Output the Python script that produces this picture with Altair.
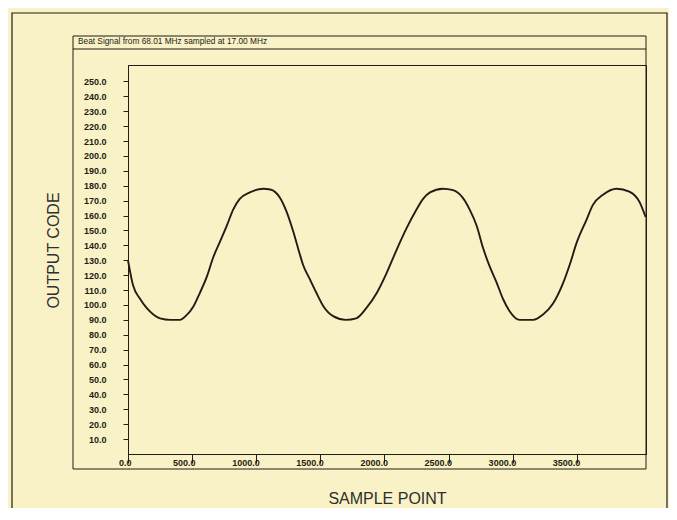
import altair as alt
import pandas as pd

# Digitised waveform (sample index, output code)
sample_point = [0, 40, 95, 145, 200, 250, 330, 405, 455, 510, 560, 615, 665, 715, 770, 820,
                870, 950, 1055, 1110, 1185, 1235, 1290, 1340, 1365, 1420, 1470, 1525, 1600,
                1700, 1780, 1860, 1940, 2015, 2095, 2170, 2250, 2300, 2355, 2455, 2535, 2610,
                2665, 2720, 2770, 2820, 2875, 2925, 2975, 3055, 3160, 3235, 3315, 3390, 3445,
                3500, 3575, 3625, 3705, 3810, 3910, 3990, 4037]
output_code = [130, 113, 104, 98, 93.5, 91, 90, 90, 93, 99, 108, 119, 132, 142, 153, 164,
               171, 175.5, 178, 177.5, 172, 163, 149, 134, 127, 117, 108, 99, 92.5,
               90, 91, 98, 108, 121, 137, 151, 164, 171, 175.5, 178, 177, 172,
               164, 153, 138, 126, 115, 104, 96, 90, 90, 93.5, 101, 114, 127,
               142, 157, 167, 174, 178, 176, 169, 159]

x_ticks = [0, 500, 1000, 1500, 2000, 2500, 3000, 3500]
y_ticks = list(range(10, 260, 10))
title_text = "Beat Signal from 68.01 MHz sampled at 17.00 MHz"
x_title = "SAMPLE POINT"
y_title = "OUTPUT CODE"

INK = "#221d14"
BEIGE = "#faf2c7"
FONT = "Liberation Sans, Arial, sans-serif"

df = pd.DataFrame({"x": sample_point, "y": output_code})
one = pd.DataFrame({"k": [0]})

W, H = 518, 389

page = alt.Chart(one).mark_rect(fill=None, stroke=INK, strokeWidth=1.2).encode(
    x=alt.value(-116), x2=alt.value(539), y=alt.value(-52), y2=alt.value(470)
)
frame = alt.Chart(one).mark_rect(fill=None, stroke=INK, strokeWidth=1).encode(
    x=alt.value(-55), x2=alt.value(W), y=alt.value(-29), y2=alt.value(404)
)
title_rule = alt.Chart(one).mark_rule(stroke=INK, strokeWidth=1).encode(
    x=alt.value(-55), x2=alt.value(W), y=alt.value(-16)
)
title_mark = alt.Chart(one).mark_text(
    text=title_text, align="left", baseline="middle", font=FONT, fontSize=8.3,
    fontWeight="normal", color=INK
).encode(x=alt.value(-50), y=alt.value(-23))

line = alt.Chart(df).mark_line(color=INK, strokeWidth=1.9, interpolate="monotone").encode(
    x=alt.X("x:Q", scale=alt.Scale(domain=[0, 4040], nice=False, zero=False),
            axis=alt.Axis(values=x_ticks, format=".1f", title=x_title, grid=False,
                          tickSize=9, labelPadding=-5, labelAlign="right", labelOffset=3,
                          labelBaseline="top", labelFont=FONT, labelFontSize=9,
                          labelFontWeight="bold",
                          labelColor=INK, tickColor=INK, domainColor=INK, zindex=2,
                          titleFont=FONT, titleFontSize=16,
                          titleFontWeight="normal", titleColor="#2e2e2e",
                          titleX=259, titleY=44, titleAlign="center",
                          titleBaseline="middle", labelFlush=False, labelOverlap=False)),
    y=alt.Y("y:Q", scale=alt.Scale(domain=[0, 261], nice=False, zero=True),
            axis=alt.Axis(values=y_ticks, format=".1f", title=y_title, grid=False,
                          tickSize=5, labelPadding=17, labelFont=FONT, labelFontSize=9,
                          labelFontWeight="bold",
                          labelColor=INK, tickColor=INK, domainColor=INK, zindex=2,
                          titleFont=FONT, titleFontSize=16,
                          titleFontWeight="normal", titleColor="#2e2e2e",
                          titleX=-75, titleY=185, titleAngle=270, titleAlign="center",
                          titleBaseline="middle", labelFlush=False, labelOverlap=False)),
)

chart = alt.layer(page, frame, title_rule, title_mark, line).properties(
    width=W, height=H,
    autosize=alt.AutoSizeParams(type="none"),
    padding={"left": 120, "top": 57, "right": 23, "bottom": 54},
    background=BEIGE,
).configure_view(stroke=INK, strokeWidth=1)

chart.save("out.html", embed_options={"renderer": "svg", "actions": False})
